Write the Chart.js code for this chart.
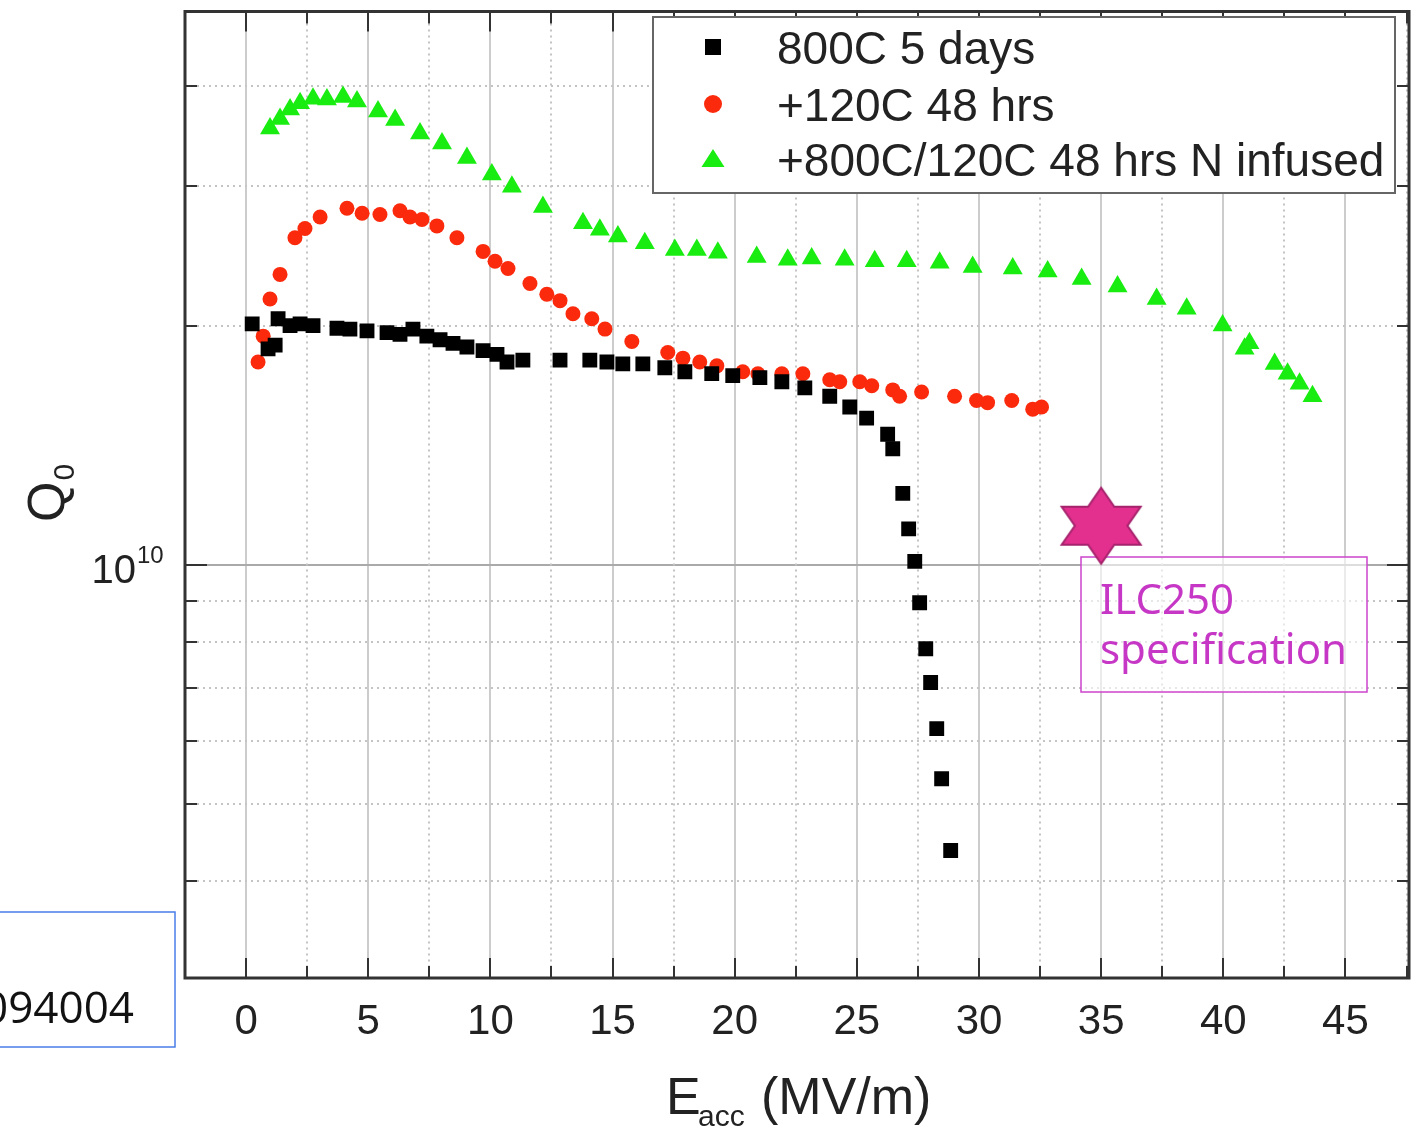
<!DOCTYPE html>
<html>
<head>
<meta charset="utf-8">
<script src="https://cdn.jsdelivr.net/npm/chart.js@4/dist/chart.umd.min.js"></script>
<style>
  html, body { margin: 0; padding: 0; background: #fff; }
  canvas { display: block; }
</style>
</head>
<body>
<canvas id="qChart" width="1421" height="1130"></canvas>
<script>
// Q0 vs Eacc (Q0 given in units of 1e10)
const seriesLabels = ['800C 5 days', '+120C 48 hrs', '+800C/120C 48 hrs N infused'];

const blackE = [0.25, 0.9, 1.19, 1.31, 1.8, 2.21, 2.74, 3.72, 4.25, 4.95, 5.77, 6.3, 6.83, 7.4, 7.94, 8.47, 9.04, 9.7, 10.27, 10.68,
  11.33, 12.85, 14.07, 14.77, 15.42, 16.24, 17.14, 17.96, 19.06, 19.92, 21.03, 21.93, 22.87, 23.89, 24.71, 25.4, 26.26, 26.47,
  26.88, 27.12, 27.37, 27.57, 27.82, 28.02, 28.27, 28.47, 28.84];
const blackQ = [2.01, 1.87, 1.89, 2.04, 2.0, 2.01, 2.0, 1.985, 1.98, 1.97, 1.96, 1.95, 1.98, 1.94, 1.92, 1.90, 1.88, 1.86, 1.84, 1.80,
  1.81, 1.81, 1.81, 1.80, 1.79, 1.79, 1.77, 1.75, 1.74, 1.73, 1.72, 1.70, 1.67, 1.63, 1.58, 1.53, 1.46, 1.40,
  1.23, 1.11, 1.01, 0.896, 0.784, 0.711, 0.622, 0.538, 0.437];

const redE = [0.49, 0.70, 0.98, 1.39, 2.0, 2.41, 3.03, 4.13, 4.75, 5.48, 6.3, 6.71, 7.2, 7.81, 8.63, 9.7, 10.19, 10.72, 11.62, 12.31,
  12.85, 13.38, 14.15, 14.69, 15.79, 17.26, 17.88, 18.57, 19.27, 20.33, 20.95, 21.93, 22.79, 23.89, 24.3, 25.12, 25.61, 26.47,
  26.75, 27.65, 29.0, 29.9, 30.35, 31.34, 32.2, 32.56];
const redQ = [1.80, 1.94, 2.16, 2.32, 2.58, 2.65, 2.74, 2.81, 2.77, 2.76, 2.79, 2.74, 2.72, 2.67, 2.58, 2.48, 2.41, 2.36, 2.26, 2.19,
  2.15, 2.07, 2.04, 1.98, 1.91, 1.85, 1.82, 1.80, 1.78, 1.75, 1.74, 1.74, 1.74, 1.71, 1.70, 1.70, 1.68, 1.66,
  1.63, 1.65, 1.63, 1.61, 1.60, 1.61, 1.57, 1.58];

const greenE = [0.98, 1.39, 1.80, 2.21, 2.74, 3.31, 3.97, 4.54, 5.40, 6.10, 7.12, 8.02, 9.04, 10.06, 10.88, 12.15, 13.79, 14.48,
  15.22, 16.32, 17.55, 18.45, 19.31, 20.9, 22.17, 23.15, 24.5, 25.73, 27.04, 28.39, 29.74, 31.38, 32.81, 34.2, 35.67, 37.27,
  38.5, 39.97, 40.87, 41.07, 42.1, 42.63, 43.12, 43.65];
const greenQ = [3.54, 3.64, 3.74, 3.81, 3.86, 3.85, 3.88, 3.83, 3.72, 3.63, 3.49, 3.39, 3.25, 3.10, 2.99, 2.82, 2.69, 2.64,
  2.59, 2.54, 2.49, 2.49, 2.47, 2.44, 2.42, 2.43, 2.42, 2.41, 2.41, 2.40, 2.37, 2.36, 2.34, 2.29, 2.24, 2.16,
  2.10, 2.0, 1.87, 1.90, 1.79, 1.74, 1.69, 1.63];

// ILC250 spec marker
const specE = [35];
const specQ = [1.12];

const xMajorTicks = [0, 5, 10, 15, 20, 25, 30, 35, 40, 45];
const xMinorTicks = [2.5, 7.5, 12.5, 17.5, 22.5, 27.5, 32.5, 37.5, 42.5, 47.5];
const yMajorTicks = [1e10];
const yMinorTicks = [4e9, 5e9, 6e9, 7e9, 8e9, 9e9, 2e10, 3e10, 4e10];

const E10 = 1e10;
const toPoints = (xs, qs) => xs.map((x, i) => ({ x: x, y: qs[i] * E10 }));

const COL_BLACK = '#000000';
const COL_RED = '#fb2a0c';
const COL_GREEN = '#18ec10';
const FONT = '"Liberation Sans", Arial, sans-serif';

// six pointed star used as the point style of the spec marker
function makeStar() {
    const c = document.createElement('canvas');
    c.width = 90; c.height = 84;
    const g = c.getContext('2d');
    const cx = 45, cy = 42, R = 38, sx = 1.2;
    g.beginPath();
    for (let k = 0; k < 12; k++) {
        const ang = k * Math.PI / 6;
        const r = (k % 2 === 0) ? R : R / Math.sqrt(3);
        const px = cx + Math.sin(ang) * r * sx;
        const py = cy - Math.cos(ang) * r;
        if (k === 0) g.moveTo(px, py); else g.lineTo(px, py);
    }
    g.closePath();
    g.fillStyle = '#e32f8e';
    g.fill();
    g.lineWidth = 2;
    g.strokeStyle = '#a5226c';
    g.stroke();
    return c;
}

function drawSymbol(ctx, style, color, x, y) {
    ctx.fillStyle = color;
    ctx.beginPath();
    if (style === 'rect') {
        ctx.rect(x - 8, y - 8, 16, 16);
    } else if (style === 'circle') {
        ctx.arc(x, y, 9, 0, Math.PI * 2);
    } else {
        ctx.moveTo(x, y - 10);
        ctx.lineTo(x + 11.5, y + 8);
        ctx.lineTo(x - 11.5, y + 8);
        ctx.closePath();
    }
    ctx.fill();
}

const decorPlugin = {
    id: 'decor',
    beforeDatasetsDraw(chart) {
        const { ctx, chartArea: a, scales } = chart;
        ctx.save();
        // dotted minor grid
        ctx.strokeStyle = '#c4c4c4';
        ctx.lineWidth = 2;
        ctx.setLineDash([2, 4]);
        xMinorTicks.forEach(v => {
            const px = Math.round(scales.x.getPixelForValue(v));
            if (px <= a.left || px >= a.right) return;
            ctx.beginPath(); ctx.moveTo(px, a.top); ctx.lineTo(px, a.bottom); ctx.stroke();
        });
        yMinorTicks.forEach(v => {
            const py = Math.round(scales.y.getPixelForValue(v));
            ctx.beginPath(); ctx.moveTo(a.left, py); ctx.lineTo(a.right, py); ctx.stroke();
        });
        ctx.setLineDash([]);

        // ILC250 note box
        ctx.strokeStyle = '#cc44cc';
        ctx.lineWidth = 1.5;
        ctx.fillStyle = 'rgba(255,255,255,0.6)';
        ctx.fillRect(1081, 557, 286, 135);
        ctx.strokeRect(1081, 557, 286, 135);
        ctx.fillStyle = '#c637c6';
        ctx.font = '42px "Noto Sans", sans-serif';
        ctx.textAlign = 'left';
        ctx.textBaseline = 'alphabetic';
        ctx.fillText('ILC250', 1100, 614);
        ctx.fillText('specification', 1100, 664);
        ctx.restore();
    },
    afterDatasetsDraw(chart) {
        const { ctx, chartArea: a, scales } = chart;
        ctx.save();
        // frame
        ctx.strokeStyle = '#333';
        ctx.lineWidth = 3;
        ctx.strokeRect(a.left, a.top, a.right - a.left, a.bottom - a.top);

        // inward ticks on all four sides
        ctx.lineWidth = 2;
        const xt = (v, len) => {
            const px = Math.round(scales.x.getPixelForValue(v));
            if (px <= a.left || px >= a.right) return;
            ctx.beginPath();
            ctx.moveTo(px, a.bottom); ctx.lineTo(px, a.bottom - len);
            ctx.moveTo(px, a.top); ctx.lineTo(px, a.top + len);
            ctx.stroke();
        };
        xMajorTicks.forEach(v => xt(v, 20));
        xMinorTicks.forEach(v => xt(v, 12));
        const yt = (v, len) => {
            const py = Math.round(scales.y.getPixelForValue(v));
            ctx.beginPath();
            ctx.moveTo(a.left, py); ctx.lineTo(a.left + len, py);
            ctx.moveTo(a.right, py); ctx.lineTo(a.right - len, py);
            ctx.stroke();
        };
        yMajorTicks.forEach(v => yt(v, 22));
        yMinorTicks.forEach(v => yt(v, 12));

        // y tick label 10^10
        ctx.fillStyle = '#222';
        ctx.textBaseline = 'alphabetic';
        ctx.textAlign = 'right';
        const y10 = scales.y.getPixelForValue(1e10);
        ctx.font = '40px ' + FONT;
        ctx.fillText('10', 136, y10 + 18);
        ctx.textAlign = 'left';
        ctx.font = '24px ' + FONT;
        ctx.fillText('10', 137, y10 - 2);

        // y title Q0 (rotated)
        ctx.save();
        ctx.translate(64, 522);
        ctx.rotate(-Math.PI / 2);
        ctx.font = '52px ' + FONT;
        ctx.fillText('Q', 0, 0);
        const qw = ctx.measureText('Q').width;
        ctx.font = '30px ' + FONT;
        ctx.fillText('0', qw + 1, 10);
        ctx.restore();

        // x title E_acc (MV/m)
        ctx.font = '52px ' + FONT;
        ctx.fillText('E', 666, 1114);
        ctx.font = '30px ' + FONT;
        ctx.fillText('acc', 698, 1126);
        ctx.font = '52px ' + FONT;
        ctx.fillText('(MV/m)', 761, 1114);

        // legend
        ctx.fillStyle = '#fff';
        ctx.fillRect(653, 17, 742, 176);
        ctx.strokeStyle = '#666';
        ctx.lineWidth = 2;
        ctx.strokeRect(653, 17, 742, 176);
        const rowsY = [47, 104, 159];
        chart.data.datasets.slice(0, 3).forEach((ds, i) => {
            drawSymbol(ctx, ds.pointStyle, ds.backgroundColor, 713, rowsY[i]);
            ctx.fillStyle = '#222';
            ctx.font = '46px ' + FONT;
            ctx.textAlign = 'left';
            ctx.fillText(ds.label, 777, rowsY[i] + 17);
        });

        // clipped reference box, bottom left
        ctx.strokeStyle = '#4a7ee8';
        ctx.lineWidth = 1.5;
        ctx.strokeRect(-2, 912, 177, 135);
        ctx.fillStyle = '#111';
        ctx.font = '44px "Open Sans", sans-serif';
        ctx.textAlign = 'right';
        ctx.fillText('094004', 134, 1023);
        ctx.restore();
    }
};

new Chart(document.getElementById('qChart'), {
    type: 'scatter',
    data: {
        datasets: [
            { label: seriesLabels[0], data: toPoints(blackE, blackQ), pointStyle: 'rect', pointRadius: 10.5,
              backgroundColor: COL_BLACK, borderWidth: 0 },
            { label: seriesLabels[1], data: toPoints(redE, redQ), pointStyle: 'circle', pointRadius: 7.5,
              backgroundColor: COL_RED, borderWidth: 0 },
            { label: seriesLabels[2], data: toPoints(greenE, greenQ), pointStyle: 'triangle', pointRadius: 11.5,
              backgroundColor: COL_GREEN, borderWidth: 0 },
            { label: 'ILC250 specification', data: toPoints(specE, specQ), pointStyle: makeStar(),
              backgroundColor: '#e32f8e', borderWidth: 0 }
        ]
    },
    options: {
        responsive: false,
        animation: false,
        events: [],
        layout: { padding: { top: 9, right: 12, left: 0, bottom: 0 } },
        plugins: { legend: { display: false }, tooltip: { enabled: false } },
        scales: {
            x: {
                type: 'linear',
                position: 'bottom',
                min: -2.5,
                max: 47.6,
                afterBuildTicks: s => { s.ticks = xMajorTicks.map(v => ({ value: v })); },
                afterFit: s => { s.height = 152; },
                ticks: { font: { family: FONT, size: 42 }, color: '#222', padding: 19, maxRotation: 0 },
                grid: { color: '#cccccc', lineWidth: 2, drawTicks: false },
                border: { display: false }
            },
            y: {
                type: 'logarithmic',
                min: 3.02e9,
                max: 4.97e10,
                afterBuildTicks: s => { s.ticks = yMajorTicks.map(v => ({ value: v })); },
                afterFit: s => { s.width = 185; },
                ticks: { display: false },
                grid: { color: '#aaaaaa', lineWidth: 2, drawTicks: false },
                border: { display: false }
            }
        }
    },
    plugins: [decorPlugin]
});
</script>
</body>
</html>
